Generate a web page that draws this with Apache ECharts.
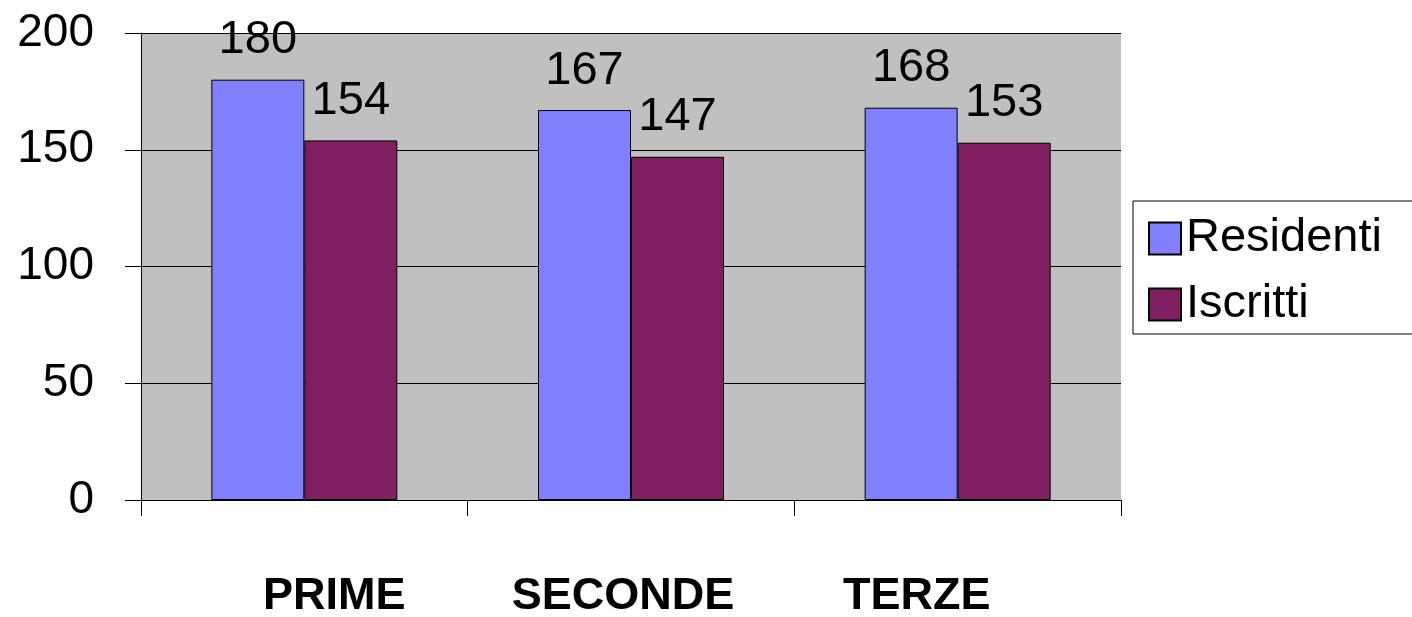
<!DOCTYPE html>
<html>
<head>
<meta charset="utf-8">
<script src="https://cdn.jsdelivr.net/npm/echarts@6/dist/echarts.min.js"></script>
<style>
  html, body { margin: 0; padding: 0; background: #fff; }
  #chart { width: 1412px; height: 617px; }
</style>
</head>
<body>
<div id="chart"></div>
<script>
var categories = ['PRIME', 'SECONDE', 'TERZE']
var residenti = [180, 167, 168]
var iscritti = [154, 147, 153]
var seriesNames = ['Residenti', 'Iscritti']

// label shifts (the original labels sit a bit off the category centres)
var labelRich = {
  a: { fontSize: 45, fontWeight: 'bold', color: '#000', padding: [0, 0, 0, 60] },
  b: { fontSize: 45, fontWeight: 'bold', color: '#000', padding: [0, 16, 0, 0] },
  c: { fontSize: 45, fontWeight: 'bold', color: '#000', padding: [0, 82, 0, 0] }
}
var richKeys = ['a', 'b', 'c']

var Chart = echarts.init(document.getElementById('chart'))

var barLabel = {
  show: true,
  position: 'top',
  distance: 16,
  color: '#000',
  fontSize: 47,
  fontFamily: 'Liberation Sans'
}

var option = {
  animation: false,
  textStyle: { fontFamily: 'Liberation Sans' },
  grid: {
    left: 141,
    right: 291,
    top: 33,
    bottom: 117,
    outerBoundsMode: 'none',
    show: true,
    backgroundColor: '#c0c0c0',
    borderWidth: 0
  },
  legend: {
    orient: 'vertical',
    left: 1133,
    top: 201,
    padding: [14, 60, 6, 15],
    borderColor: '#000',
    borderWidth: 1,
    backgroundColor: '#fff',
    itemWidth: 32,
    itemHeight: 32,
    itemGap: 19,
    itemTextGap: 22,
    icon: 'rect',
    textStyle: { fontSize: 47, color: '#000', fontFamily: 'Liberation Sans' },
    data: seriesNames
  },
  xAxis: {
    type: 'category',
    data: categories,
    axisLine: { lineStyle: { color: '#000', width: 1 } },
    axisTick: { show: true, length: 16, lineStyle: { color: '#000' } },
    axisLabel: {
      margin: 74,
      fontFamily: 'Liberation Sans',
      formatter: function (value, idx) {
        return '{' + richKeys[idx] + '|' + value + '}'
      },
      rich: labelRich
    }
  },
  yAxis: {
    type: 'value',
    min: 0,
    max: 200,
    interval: 50,
    axisLine: { show: true, lineStyle: { color: '#000', width: 1 } },
    axisTick: { show: true, length: 16, lineStyle: { color: '#000' } },
    axisLabel: { margin: 47, fontSize: 46, color: '#000', fontFamily: 'Liberation Sans' },
    splitLine: { show: true, lineStyle: { color: '#000', width: 1 } }
  },
  series: [
    {
      name: seriesNames[0],
      type: 'bar',
      data: residenti,
      barWidth: 93,
      barGap: '0%',
      itemStyle: { color: '#8080ff', borderColor: '#000', borderWidth: 1 },
      label: barLabel
    },
    {
      name: seriesNames[1],
      type: 'bar',
      data: iscritti,
      barWidth: 93,
      itemStyle: { color: '#802060', borderColor: '#000', borderWidth: 1 },
      label: barLabel
    }
  ]
}

Chart.setOption(option)
</script>
</body>
</html>
